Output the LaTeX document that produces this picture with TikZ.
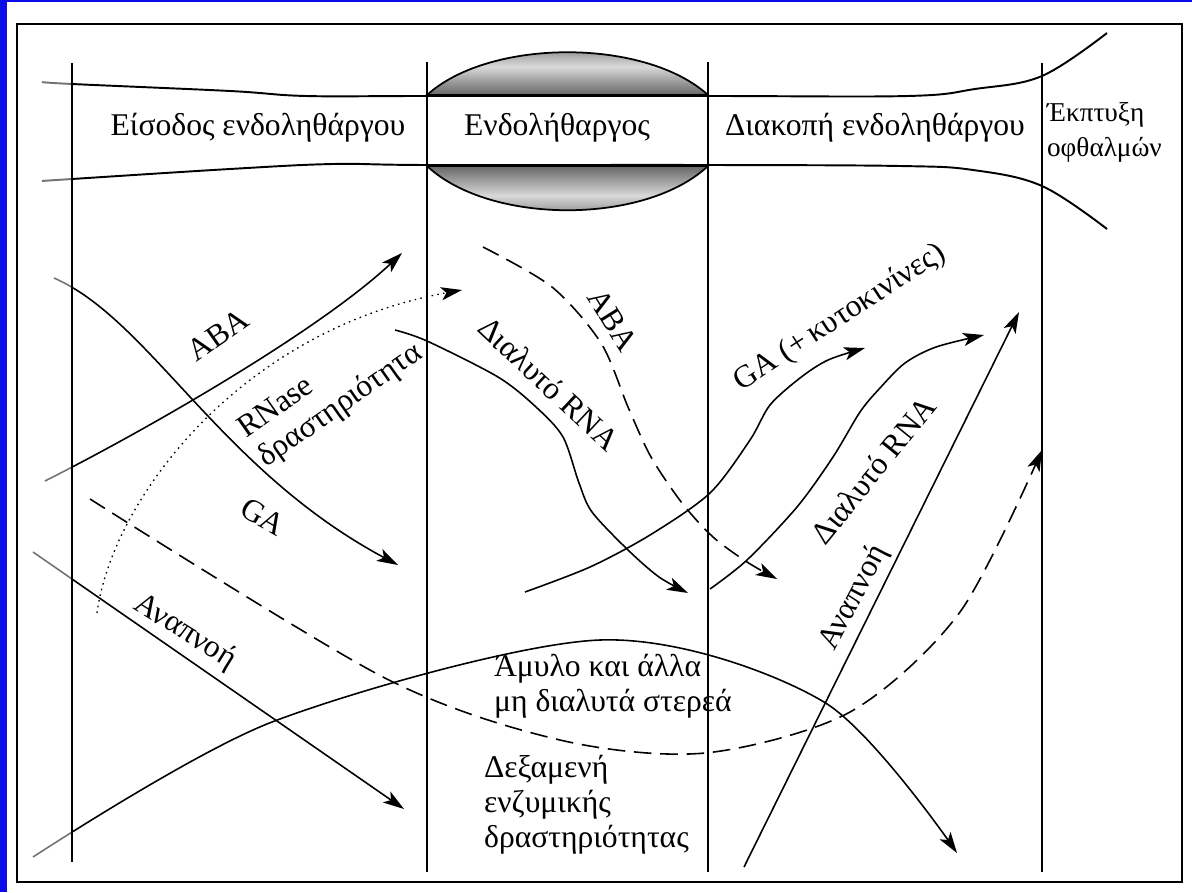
\documentclass[tikz,border=0pt]{standalone}
\usepackage{fontspec}
\setmainfont{Liberation Serif}
\usetikzlibrary{arrows.meta}
\definecolor{slideblue}{RGB}{12,12,232}
\tikzset{
  outerframe/.style={draw=black, line width=1.5pt},
  phaseline/.style={line width=1.1pt},
  thinphase/.style={line width=0.6pt},
  bandline/.style={line width=1.1pt},
  lens/.style={draw=black, line width=1pt, top color=black!60,
               bottom color=black!60, middle color=black!15},
  flow/.style={line width=0.9pt, -{Stealth[length=12pt, width=7.5pt, inset=3pt]}},
  flowdash/.style={flow, dash pattern=on 10pt off 5pt},
  flowdot/.style={flow, line width=0.75pt, dash pattern=on 0.9pt off 2.4pt},
  lbl/.style={font=\fontsize{18}{20}\selectfont, inner sep=1pt, align=left},
}

\begin{document}
\begin{tikzpicture}[x=0.02cm, y=-0.02cm]
  \useasboundingbox (0,0) rectangle (1192,892);
  \fill[slideblue] (0,0) rectangle (1192,892);
  \fill[white] (7,2) rectangle (1192,892);
  \draw[outerframe] (17,24) rectangle (1182,882);

  % dormancy lens and the band
  \path[lens] (427,95) .. controls (490,38) and (645,38) .. (708,95) -- cycle;
  \path[lens] (427,166) .. controls (490,225) and (645,225) .. (708,166) -- cycle;
  \draw[bandline] plot[smooth, tension=0.6] coordinates {(42,82) (72,84) (230,91) (306,96)
     (427,96) (708,96) (908,96) (975,89) (1042,76) (1107,33)};
  \draw[bandline] plot[smooth, tension=0.6] coordinates {(42,181) (72,179) (230,169) (333,164)
     (427,165) (708,165) (900,166) (973,170) (1042,186) (1107,229)};

  \draw[thinphase] (72,63) -- (72,862);
  \draw[phaseline] (427,62) -- (427,872);
  \draw[phaseline] (708,62) -- (708,872);
  \draw[phaseline] (1042,63) -- (1042,872);

  \node[lbl] (entry) at (258,128) {Είσοδος ενδοληθάργου};
  \node[lbl] (dormancy) at (557,128) {Ενδολήθαργος};
  \node[lbl] (release) at (875,128) {Διακοπή ενδοληθάργου};
  \node[lbl, anchor=west, font=\fontsize{15.5}{20}\selectfont] (budbreak) at (1045,132)
    {Έκπτυξη\\οφθαλμών};

  % end points of the flows
  \coordinate (abaA) at (45,481);      \coordinate (abaB) at (402,253);
  \coordinate (rnaseA) at (97,613);    \coordinate (rnaseB) at (462,290);
  \coordinate (gaA) at (54,278);       \coordinate (gaB) at (398,565);
  \coordinate (longA) at (90,499);     \coordinate (longB) at (1042,450);
  \coordinate (respA) at (33,552);     \coordinate (respB) at (404,809);
  \coordinate (starchA) at (33,857);   \coordinate (starchB) at (957,853);
  \coordinate (aba2A) at (483,247);    \coordinate (aba2B) at (777,579);
  \coordinate (srnaA) at (395,330);    \coordinate (srnaB) at (688,593);
  \coordinate (ga2A) at (525,592);     \coordinate (ga2B) at (865,348);
  \coordinate (srna2A) at (710,589);   \coordinate (srna2B) at (984,335);
  \coordinate (resp2A) at (744,867);   \coordinate (resp2B) at (1019,312);

  \draw[flow] (abaA) .. controls (150,428) and (320,330) .. (abaB);
  \draw[flowdot] (rnaseA) .. controls (112,500) and (240,330) .. (rnaseB);
  \draw[flow] (gaA) .. controls (150,320) and (220,470) .. (gaB);
  \draw[flowdash] plot[smooth] coordinates {(longA) (383,677) (560,740) (705,753)
     (850,712) (960,612) (longB)};
  \draw[flow] (respA) -- (respB);
  \draw[flow] plot[smooth] coordinates {(starchA) (272,722) (600,640) (824,702) (starchB)};
  \draw[flowdash] plot[smooth] coordinates {(aba2A) (552,287) (601,343) (628,407) (651,457) (682,503)
     (713,537) (747,562) (aba2B)};
  \draw[flow] plot[smooth] coordinates {(srnaA) (427,341) (498,377) (536,407) (563,437) (579,483)
     (592,512) (628,550) (659,577) (srnaB)};
  \draw[flow] plot[smooth] coordinates {(ga2A) (590,567) (650,535) (710,493) (750,440) (770,405)
     (800,378) (828,360) (ga2B)};
  \draw[flow] plot[smooth] coordinates {(srna2A) (747,560) (797,507) (833,457) (860,412) (880,388)
     (905,363) (936,347) (srna2B)};
  \draw[flow] (resp2A) -- (resp2B);

  % lighter strip left of the first phase line
  \fill[white, opacity=0.45] (19,26) rectangle (71,880);

  \node[lbl, rotate=35] (abaL) at (218,335) {ABA};
  \node[lbl, rotate=35] (rnaseL) at (331,392) {RNase\\δραστηριότητα};
  \node[lbl, rotate=-30] (gaL) at (263,517) {GA};
  \node[lbl, rotate=-32] (respL) at (185,632) {Αναπνοή};
  \node[lbl, rotate=-58] (aba2L) at (613,320) {ABA};
  \node[lbl, rotate=-43] (srnaL) at (549,384) {Διαλυτό RNA};
  \node[lbl, rotate=33] (ga2L) at (840,318) {GA (+\,κυτοκινίνες)};
  \node[lbl, rotate=51] (srna2L) at (873,470) {Διαλυτό RNA};
  \node[lbl, rotate=62] (resp2L) at (854,598) {Αναπνοή};
  \node[lbl, anchor=west] (starchL) at (492,686) {Άμυλο και άλλα\\μη διαλυτά στερεά};
  \node[lbl, anchor=west] (poolL) at (482,805) {Δεξαμενή\\ενζυμικής\\δραστηριότητας};
\end{tikzpicture}
\end{document}
